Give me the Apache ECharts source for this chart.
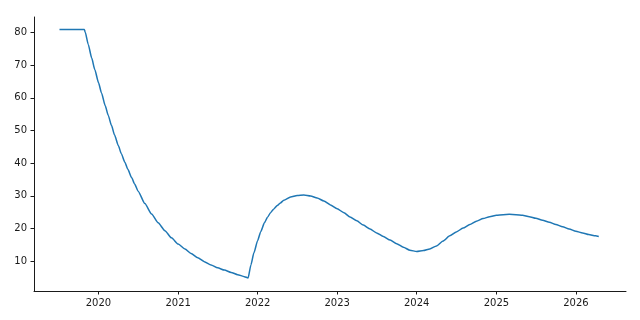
<!DOCTYPE html>
<html>
<head>
<meta charset="utf-8">
<script src="https://cdn.jsdelivr.net/npm/echarts@6/dist/echarts.min.js"></script>
<style>
html,body{margin:0;padding:0;background:#fff;}
#chart{width:640px;height:320px;}
</style>
</head>
<body>
<div id="chart"></div>
<script>
// ---- data ----
const dates = [
  '2019-07-06','2019-08-01','2019-09-01','2019-10-01','2019-10-28','2019-11-01','2019-11-15','2019-12-01','2019-12-15',
  '2020-01-01','2020-01-15','2020-02-01','2020-02-15','2020-03-01','2020-03-15','2020-04-01','2020-04-15',
  '2020-05-01','2020-05-15','2020-06-01','2020-06-15',
  '2020-07-01','2020-08-01','2020-09-01','2020-10-01','2020-11-01','2020-12-01',
  '2021-01-01','2021-02-01','2021-03-01','2021-04-01','2021-05-01','2021-06-01',
  '2021-07-01','2021-08-01','2021-09-01','2021-10-01','2021-11-01','2021-11-18','2021-12-01','2021-12-15',
  '2022-01-01','2022-01-15','2022-02-01','2022-02-15','2022-03-01','2022-03-15','2022-04-01','2022-04-15','2022-05-01','2022-06-01',
  '2022-07-01','2022-08-01','2022-09-01','2022-10-01','2022-11-01','2022-12-01',
  '2023-01-01','2023-02-01','2023-03-01','2023-04-01','2023-05-01','2023-06-01',
  '2023-07-01','2023-08-01','2023-09-01','2023-10-01','2023-11-01','2023-12-01',
  '2024-01-01','2024-02-01','2024-03-01','2024-04-01','2024-05-01','2024-06-01',
  '2024-07-01','2024-08-01','2024-09-01','2024-10-01','2024-11-01','2024-12-01',
  '2025-01-01','2025-02-01','2025-03-01','2025-04-01','2025-05-01','2025-06-01',
  '2025-07-01','2025-08-01','2025-09-01','2025-10-01','2025-11-01','2025-12-01',
  '2026-01-01','2026-02-01','2026-03-01','2026-04-01','2026-04-16'
];
const values = [
  81, 81, 81, 81, 81, 80.2, 76.4, 72.2, 68.7,
  64.7, 61.5, 57.6, 54.6, 51.5, 48.6, 45.4, 42.9,
  40.3, 38.1, 35.6, 33.6,
  31.4, 27.6, 24.4, 21.7, 19.3, 17.1,
  15.2, 13.7, 12.3, 11.0, 9.8, 8.8,
  7.9, 7.2, 6.5, 5.8, 5.2, 4.8, 8.8, 12.6,
  16.3, 19.0, 21.7, 23.4, 24.8, 25.9, 27.0, 27.8, 28.6, 29.6,
  30.05, 30.2, 29.9, 29.3, 28.4, 27.2,
  26.0, 24.8, 23.5, 22.3, 21.0, 19.8,
  18.6, 17.5, 16.4, 15.3, 14.2, 13.3,
  12.9, 13.2, 13.7, 14.6, 16.1, 17.7,
  18.9, 20.1, 21.2, 22.2, 23.0, 23.6,
  24.0, 24.2, 24.3, 24.2, 24.0, 23.6,
  23.1, 22.5, 21.9, 21.2, 20.5, 19.8,
  19.1, 18.6, 18.1, 17.7, 17.5
];
const yearTicks = ['2020-01-01','2021-01-01','2022-01-01','2023-01-01','2024-01-01','2025-01-01','2026-01-01'];
const yTicks = [10, 20, 30, 40, 50, 60, 70, 80];

// ---- chart ----
const ts = d => +new Date(d + 'T00:00:00Z');
const chart = echarts.init(document.getElementById('chart'), null, {renderer: 'canvas'});
const yearTs = yearTicks.map(ts);
const seriesData = dates.map((d, i) => [ts(d), values[i]]);
const axisColor = '#1a1a1a';
const font = {fontFamily: 'DejaVu Sans', fontSize: 10, color: axisColor};

chart.setOption({
  animation: false,
  backgroundColor: '#fff',
  grid: {left: 34, right: 14, top: 17, bottom: 29, containLabel: false},
  xAxis: {
    type: 'value',
    scale: true,
    min: ts('2019-03-11'),
    max: ts('2026-08-19'),
    axisLine: {show: true, onZero: false, lineStyle: {color: axisColor, width: 1}},
    axisTick: {show: true, length: 3.5, inside: false, customValues: yearTs, lineStyle: {color: axisColor, width: 1}},
    axisLabel: Object.assign({
      customValues: yearTs, margin: 7,
      formatter: v => String(new Date(v).getUTCFullYear()),
      hideOverlap: false
    }, font),
    splitLine: {show: false}
  },
  yAxis: {
    type: 'value',
    min: 0.8,
    max: 84.8,
    axisLine: {show: true, lineStyle: {color: axisColor, width: 1}},
    axisTick: {show: true, length: 3.5, customValues: yTicks, lineStyle: {color: axisColor, width: 1}},
    axisLabel: Object.assign({customValues: yTicks, margin: 7}, font),
    splitLine: {show: false}
  },
  series: [{
    type: 'line',
    data: seriesData,
    showSymbol: false,
    smooth: 0.2,
    smoothMonotone: 'x',
    lineStyle: {color: '#1f77b4', width: 1.5},
    itemStyle: {color: '#1f77b4'}
  }]
});
</script>
</body>
</html>
